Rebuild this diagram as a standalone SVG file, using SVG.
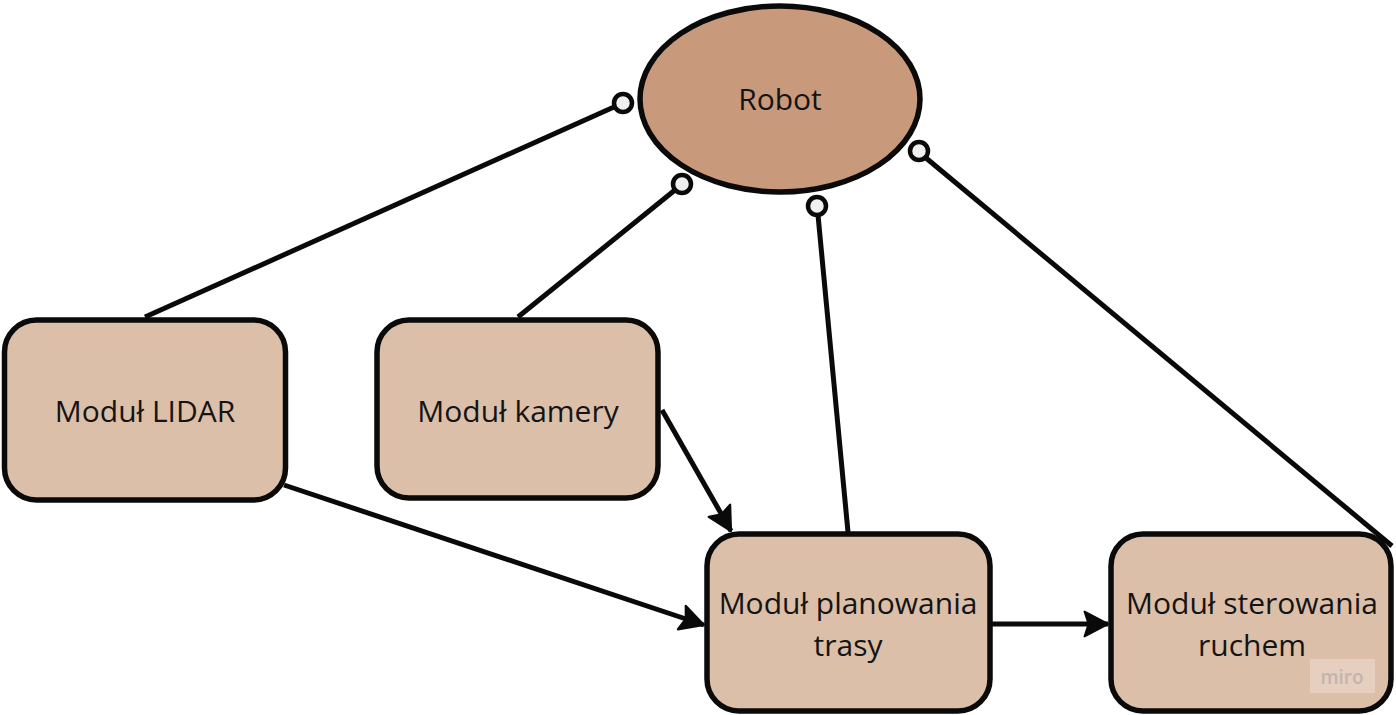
<svg xmlns="http://www.w3.org/2000/svg" width="1396" height="715" viewBox="0 0 1396 715">
<style>
.node{fill:#dcbfa8;stroke:#0a0a0a;stroke-width:5.5}
.lbl{font-family:"Open Sans","Noto Sans",sans-serif;font-size:30px;fill:#141414;text-anchor:middle}
.edge{stroke:#0a0a0a;stroke-width:5;fill:none}
.end{fill:#f0f0f0;stroke:#0a0a0a;stroke-width:4.5}
</style>
<defs>
<marker id="arr" viewBox="0 0 10 10" refX="9.6" refY="5" markerWidth="5.2" markerHeight="5.6" markerUnits="strokeWidth" orient="auto" preserveAspectRatio="none">
<path d="M0.6,0.6 L9.6,5 L0.6,9.4 L2.2,5 Z" fill="#0a0a0a" stroke="#0a0a0a" stroke-width="0.8" stroke-linejoin="round"/>
</marker>
</defs>
<rect width="1396" height="715" fill="#ffffff"/>
<g id="connectors">
<line class="edge" x1="145" y1="317" x2="614" y2="107"/>
<line class="edge" x1="518" y1="317" x2="675" y2="190"/>
<line class="edge" x1="848" y1="532" x2="818" y2="215"/>
<line class="edge" x1="1392" y1="546" x2="926" y2="158"/>
<line class="edge" x1="662" y1="410" x2="731" y2="531" marker-end="url(#arr)"/>
<line class="edge" x1="284" y1="485" x2="704" y2="625" marker-end="url(#arr)"/>
<line class="edge" x1="992" y1="624" x2="1108" y2="624" marker-end="url(#arr)"/>
<circle class="end" cx="623" cy="103" r="9"/>
<circle class="end" cx="682" cy="184" r="9"/>
<circle class="end" cx="817" cy="206" r="9"/>
<circle class="end" cx="919" cy="151" r="9"/>
</g>
<g id="robot">
<ellipse cx="780" cy="99" rx="140" ry="93" fill="#c9997c" stroke="#0a0a0a" stroke-width="5.5"/>
<text class="lbl" x="780" y="110">Robot</text>
</g>
<g id="lidar">
<rect class="node" x="4.5" y="320" width="281" height="180" rx="32"/>
<text class="lbl" x="145" y="422">Moduł LIDAR</text>
</g>
<g id="kamera">
<rect class="node" x="377" y="320" width="281" height="178" rx="32"/>
<text class="lbl" x="518" y="422">Moduł kamery</text>
</g>
<g id="planowanie">
<rect class="node" x="707" y="534" width="283" height="177" rx="32"/>
<text class="lbl" x="848" y="614">Moduł planowania</text>
<text class="lbl" x="848" y="656">trasy</text>
</g>
<g id="sterowanie">
<rect class="node" x="1111" y="534" width="280" height="177" rx="32"/>
<text class="lbl" x="1252" y="614">Moduł sterowania</text>
<text class="lbl" x="1252" y="656">ruchem</text>
<rect x="1310" y="659" width="65" height="34" fill="#e6cfbe"/>
<text x="1342" y="684" font-family="'Open Sans',sans-serif" font-size="19" fill="#c4b4b0" text-anchor="middle" font-weight="600">miro</text>
</g>
</svg>
